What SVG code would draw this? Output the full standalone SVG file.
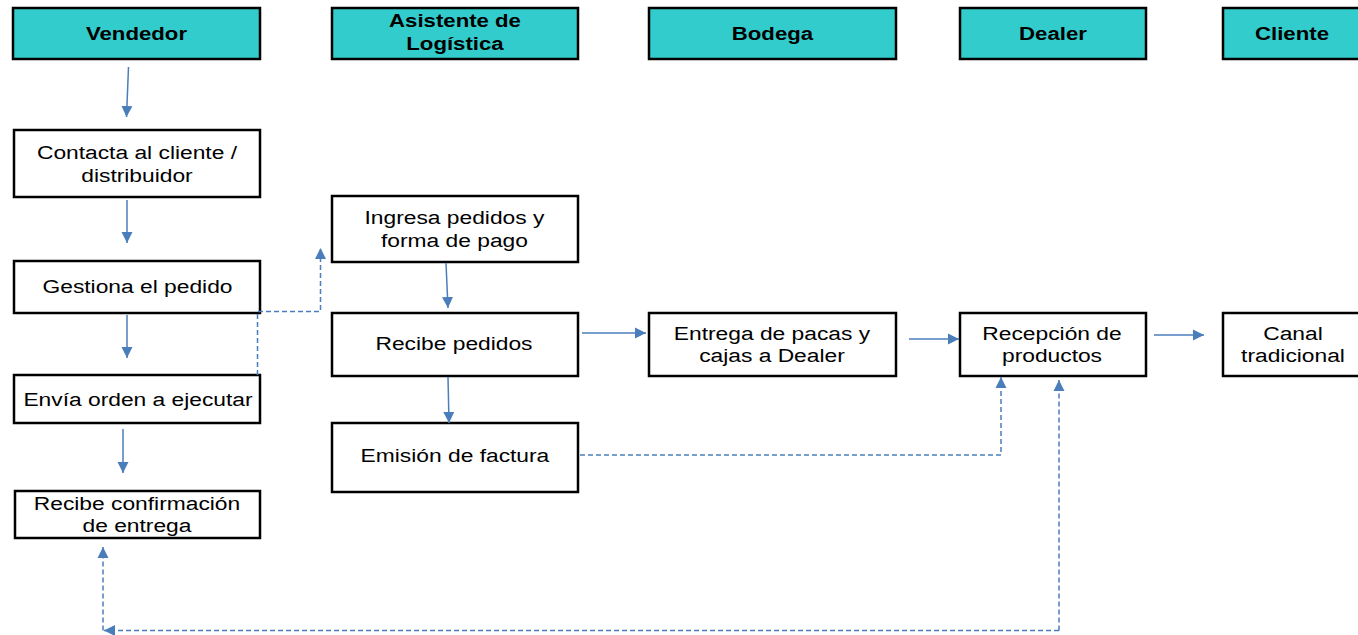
<svg xmlns="http://www.w3.org/2000/svg" width="1358" height="635" viewBox="0 0 1358 635">
<style>
.hdr{fill:#33CCCC;stroke:#000;stroke-width:2.5}
.box{fill:#fff;stroke:#000;stroke-width:2.5}
text{font-family:"Liberation Sans",Arial,sans-serif;fill:#000;text-anchor:middle;transform-box:fill-box;transform-origin:center;transform:scaleX(1.2)}
.ht{font-weight:bold;font-size:18.5px}
.bt{font-size:19px}
.c{fill:none;stroke:#4A7EBB;stroke-width:1.5}
.d{fill:none;stroke:#4A7EBB;stroke-width:1.5;stroke-dasharray:5 3}
</style>
<defs>
<marker id="ah" viewBox="0 0 12 12" refX="11" refY="6" markerWidth="12" markerHeight="12" markerUnits="userSpaceOnUse" orient="auto">
<path d="M0,0.5 L11,6 L0,11.5 Z" fill="#4A7EBB"/>
</marker>
</defs>
<rect width="1358" height="635" fill="#fff"/>
<g id="h-vendedor"><rect class="hdr" x="13" y="8" width="247" height="51"/><text class="ht" x="136.5" y="40">Vendedor</text></g>
<g id="h-asistente"><rect class="hdr" x="332" y="8" width="246" height="51"/><text class="ht" x="455" y="27"><tspan x="455" y="27">Asistente de</tspan><tspan x="455" y="50">Logística</tspan></text></g>
<g id="h-bodega"><rect class="hdr" x="649" y="8" width="247" height="51"/><text class="ht" x="772.5" y="40">Bodega</text></g>
<g id="h-dealer"><rect class="hdr" x="960" y="8" width="186" height="51"/><text class="ht" x="1053" y="40">Dealer</text></g>
<g id="h-cliente"><rect class="hdr" x="1223" y="8" width="140" height="51"/><text class="ht" x="1292" y="40">Cliente</text></g>

<g id="n-contacta"><rect class="box" x="14" y="130" width="246" height="67"/><text class="bt" x="137"><tspan x="137" y="159">Contacta al cliente /</tspan><tspan x="137" y="182">distribuidor</tspan></text></g>
<g id="n-gestiona"><rect class="box" x="14" y="261" width="246" height="52"/><text class="bt" x="137.5" y="293">Gestiona el pedido</text></g>
<g id="n-envia"><rect class="box" x="14" y="375" width="246" height="48"/><text class="bt" x="138" y="406">Envía orden a ejecutar</text></g>
<g id="n-confirmacion"><rect class="box" x="15" y="491" width="245" height="47"/><text class="bt" x="137"><tspan x="137" y="510">Recibe confirmación</tspan><tspan x="137" y="532">de entrega</tspan></text></g>
<g id="n-ingresa"><rect class="box" x="332" y="196" width="246" height="66"/><text class="bt" x="454.5"><tspan x="454.5" y="224">Ingresa pedidos y</tspan><tspan x="454.5" y="247">forma de pago</tspan></text></g>
<g id="n-recibe"><rect class="box" x="332" y="313" width="246" height="63"/><text class="bt" x="454" y="350">Recibe pedidos</text></g>
<g id="n-emision"><rect class="box" x="332" y="423" width="246" height="69"/><text class="bt" x="455" y="462">Emisión de factura</text></g>
<g id="n-entrega"><rect class="box" x="649" y="313" width="247" height="63"/><text class="bt" x="772"><tspan x="772" y="340">Entrega de pacas y</tspan><tspan x="772" y="362">cajas a Dealer</tspan></text></g>
<g id="n-recepcion"><rect class="box" x="960" y="313" width="186" height="63"/><text class="bt" x="1052"><tspan x="1052" y="340">Recepción de</tspan><tspan x="1052" y="362">productos</tspan></text></g>
<g id="n-canal"><rect class="box" x="1223" y="313" width="140" height="63"/><text class="bt" x="1293"><tspan x="1293" y="340">Canal</tspan><tspan x="1293" y="362">tradicional</tspan></text></g>

<g id="connectors">
<path class="c" d="M128.5,67 L126.5,117" marker-end="url(#ah)"/>
<path class="c" d="M127,200 L127,243" marker-end="url(#ah)"/>
<path class="c" d="M127,315 L127,358" marker-end="url(#ah)"/>
<path class="c" d="M123,429 L123,473" marker-end="url(#ah)"/>
<path class="c" d="M446,263 L448,308" marker-end="url(#ah)"/>
<path class="c" d="M448,377 L449,423" marker-end="url(#ah)"/>
<path class="c" d="M582,333 L646,333" marker-end="url(#ah)"/>
<path class="c" d="M909,339 L959,339" marker-end="url(#ah)"/>
<path class="c" d="M1154,335 L1204,335" marker-end="url(#ah)"/>
<path class="d" d="M257.5,375 V311.5 H320.5 V248" marker-end="url(#ah)"/>
<path class="d" d="M580,455 H1001 V377" marker-end="url(#ah)"/>
<path class="d" d="M1059,630.5 V380" marker-end="url(#ah)"/>
<path class="d" d="M1059,630.5 H104" marker-end="url(#ah)"/>
<path class="d" d="M103,630.5 V547" marker-end="url(#ah)"/>
</g>
</svg>
